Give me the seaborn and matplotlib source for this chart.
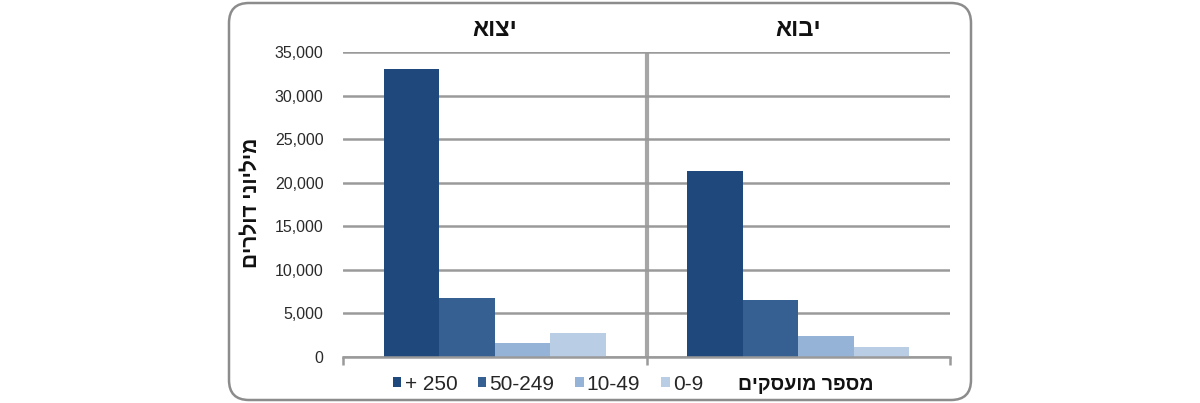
import matplotlib
matplotlib.use("Agg")
import matplotlib.pyplot as plt
from matplotlib.patches import FancyBboxPatch
import matplotlib.transforms as mtransforms
import seaborn as sns
import pandas as pd

# ---- data ----
flows = ["יצוא", "יבוא"]                      # export, import
size_groups = ["+ 250", "50-249", "10-49", "0-9"]
export_values = [33100, 6800, 1600, 2750]
import_values = [21300, 6550, 2450, 1200]
y_ticks = [0, 5000, 10000, 15000, 20000, 25000, 30000, 35000]
y_label = "מיליוני דולרים"
legend_title = "מספר מועסקים"
colors = ["#1F497D", "#376092", "#95B3D7", "#B9CDE5"]


def vis(s):
    # matplotlib has no bidi support: reverse Hebrew for visual order
    return s[::-1]


rows = []
for f, vals in zip(flows, [export_values, import_values]):
    for g, v in zip(size_groups, vals):
        rows.append({"flow": f, "size": g, "value": v})
df = pd.DataFrame(rows)

sns.set_theme(style="white")
plt.rcParams["font.family"] = ["Liberation Sans", "DejaVu Sans"]

fig = plt.figure(figsize=(12, 4.03), dpi=100)
ax = fig.add_axes([343 / 1200, 1 - 357 / 403, 607 / 1200, (357 - 52) / 403])

sns.barplot(data=df, x="flow", y="value", hue="size", order=flows,
            hue_order=size_groups, palette=colors, width=0.73,
            saturation=1, ax=ax, errorbar=None, edgecolor="none")

grid_c = "#9A9A9A"
ax.set_ylim(0, 35000)
ax.set_xlim(-0.5, 1.5)
ax.set_yticks(y_ticks)
ax.set_yticklabels([f"{v:,}" for v in y_ticks], fontsize=11.5, color="#2A2A2A")
ax.tick_params(axis="y", length=0, pad=14)
ax.yaxis.grid(True, color=grid_c, linewidth=1.8)
ax.set_axisbelow(True)
ax.set_xticks([-0.5, 0.5, 1.5])
ax.set_xticklabels([])
ax.tick_params(axis="x", length=6, width=1.8, color=grid_c, direction="out", bottom=True)
for s in ["top", "right", "left"]:
    ax.spines[s].set_visible(False)
ax.spines["bottom"].set_color(grid_c)
ax.spines["bottom"].set_linewidth(1.8)
ax.set_xlabel("")
ax.set_ylabel("")

# divider between panels
ax.axvline(0.5, color="#A6A6A6", linewidth=3, zorder=0)

# panel titles
trans = mtransforms.blended_transform_factory(ax.transData, fig.transFigure)
for i, f in enumerate(flows):
    ax.text(i, 1 - 29 / 403, vis(f), transform=trans, ha="center", va="center",
            fontsize=17, fontweight="bold", color="#111111")

# y label
fig.text(251 / 1200, 1 - 203 / 403, vis(y_label), rotation=90, ha="center",
         va="center", fontsize=15, fontweight="bold", color="#111111")

# legend
leg = ax.get_legend()
handles = leg.legend_handles if hasattr(leg, "legend_handles") else leg.legendHandles
leg.remove()
fig.legend(handles, size_groups, loc="center", bbox_to_anchor=(548 / 1200, 1 - 384 / 403),
           ncol=4, frameon=False, handlelength=0.4, handleheight=0.4,
           handletextpad=0.15, columnspacing=1.0, prop={"size": 15})
fig.text(806 / 1200, 1 - 386 / 403, vis(legend_title), ha="center", va="center",
         fontsize=14, fontweight="bold", color="#111111")

# rounded frame
frame = FancyBboxPatch((2.29, 0.03), 7.42, 3.97,
                       boxstyle="round,pad=0,rounding_size=0.2",
                       transform=fig.dpi_scale_trans, facecolor="none",
                       edgecolor="#8C8C8C", linewidth=1.8)
fig.patches.append(frame)

fig.savefig("out.png", dpi=100)
